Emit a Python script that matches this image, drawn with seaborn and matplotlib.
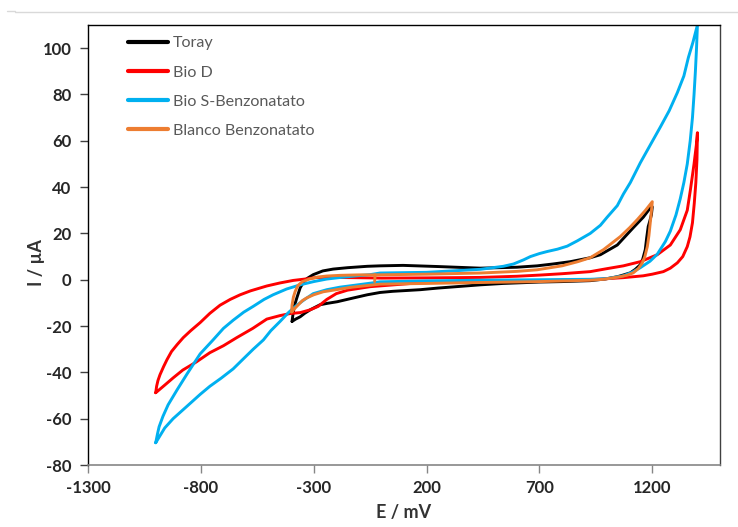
import matplotlib
matplotlib.use("Agg")
import matplotlib.pyplot as plt
from matplotlib.lines import Line2D
import numpy as np
import pandas as pd
import seaborn as sns

# ---------------- cyclic voltammograms (E in mV, I in uA) ----------------
# Toray: anodic branch then cathodic branch back to the vertex
toray_E = [-396, -392, -385, -373, -360, -347, -330, -302, -260, -214, -150, -63, -6, 96, 250,
           438, 600, 690, 760, 837, 925, 970, 1045, 1116, 1160, 1191, 1200,
           1196, 1188, 1182, 1175, 1169, 1158, 1147, 1125, 1103, 1070, 1045, 990, 925, 800,
           700, 540, 438, 250, 172, 50, -6, -63, -130, -196, -240, -272, -316, -340, -360,
           -380, -396]
toray_I = [-18, -15, -11, -7.3, -3.5, -1.3, 0.5, 2.2, 3.8, 4.6, 5.2, 5.8, 6.0, 6.2, 5.7,
           5.0, 5.4, 6.0, 6.8, 7.8, 9.5, 10.8, 15, 22.5, 27, 31, 31.5,
           28, 25, 23, 18, 13, 9, 6.5, 4.5, 3, 2, 1.3, 0.3, -0.4, -0.8,
           -1, -1.6, -2.2, -3.6, -4.3, -5, -5.5, -6.5, -8, -9.5, -10.2, -10.8, -13, -14.5, -16,
           -17, -18]

# Bio D
biod_E = [-1000, -996, -990, -981, -965, -950, -930, -905, -878, -845, -803, -760, -715, -670,
          -626, -580, -508, -450, -391, -330, -286, -214, -130, -50, 0, 200, 438, 600, 700, 800,
          925, 1000, 1072, 1147, 1222, 1280, 1324, 1355, 1369, 1385, 1395, 1400,
          1398, 1393, 1386, 1378, 1367, 1355, 1335, 1311, 1280, 1249, 1200, 1160, 1072, 925,
          700, 438, 172, -50, -150, -200, -242, -280, -316, -360, -405, -450, -508, -570, -641,
          -700, -760, -820, -880, -923, -960, -1000]
biod_I = [-48.8, -46, -43.5, -41, -37.5, -34.5, -31, -28, -25, -22, -18.5, -14.5, -11, -8.5,
          -6.5, -4.8, -2.7, -1.4, -0.3, 0.4, 1.0, 1.0, 0.9, 0.8, 0.7, 0.8, 1.0, 1.5, 2.0, 2.6,
          3.5, 4.8, 6.0, 7.8, 10.8, 15, 21.6, 30, 38.9, 50, 58, 63.5,
          52, 42, 33, 24.6, 18.5, 14.3, 10, 7.3, 5, 3.5, 2.4, 1.7, 0.9, 0,
          -0.4, -0.8, -1.3, -3, -4.5, -6, -8.5, -11.5, -13, -14.2, -14.6, -15.5, -17, -21, -25,
          -28.5, -31.5, -35.5, -39, -42.4, -45.5, -48.8]

# Bio S-Benzonatato
bios_E = [-1000, -992, -985, -968, -945, -905, -860, -803, -746, -700, -657, -610, -568, -520,
          -480, -420, -360, -300, -242, -180, -100, -50, -6, 200, 438, 540, 585, 630, 660, 700,
          735, 780, 823, 868, 925, 970, 1000, 1045, 1072, 1103, 1147, 1190, 1236, 1275, 1311,
          1340, 1360, 1380, 1400,
          1396, 1391, 1385, 1378, 1368, 1355, 1340, 1324, 1305, 1280, 1258, 1222, 1190, 1147,
          1110, 1072, 1000, 925, 700, 438, 200, -6, -50, -120, -183, -242, -302, -340, -375,
          -410, -449, -490, -523, -568, -610, -657, -710, -760, -803, -860, -923, -960, -1000]
bios_I = [-70.4, -66.5, -63.5, -59, -54, -47.5, -40.5, -32, -26, -21, -17.5, -14, -11.5, -8.5,
          -6.5, -4, -2.2, -0.8, 0.3, 1.0, 1.8, 2.2, 2.9, 3.2, 4.5, 5.8, 6.8, 8.6, 10, 11.3,
          12.2, 13.2, 14.5, 16.8, 20, 23.5, 27, 32, 37, 42, 50.5, 58, 66, 73, 80.8,
          88, 96, 102.5, 110,
          100, 90, 80, 70, 60, 50, 42, 35, 28, 21, 16.5, 11, 8, 5.2,
          3.2, 1.7, 0.5, 0.2, 0, -0.2, -0.5, -0.9, -1.5, -2.4, -3.2, -4.3, -6, -8.5, -11,
          -14, -18, -22, -26, -30, -34, -38.5, -42.5, -46, -49.5, -54.5, -60, -64, -70.4]

# Blanco Benzonatato (scan starts near -30 mV)
blanco_E = [-30, -28, 200, 438, 600, 690, 800, 870, 925, 984, 1058, 1100, 1134, 1170, 1200,
            1195, 1191, 1185, 1178, 1167, 1156, 1138, 1116, 1090, 1058, 984, 925, 700, 438, 200,
            -6, -138, -200, -258, -300, -330, -350, -370, -385, -398,
            -396, -390, -382, -370, -350, -316, -280, -242, -183, -100, -30]
blanco_I = [-0.8, 2.1, 2.4, 2.9, 3.6, 4.3, 6, 7.8, 9.5, 13, 18.6, 22.5, 26, 30, 33.7,
            28.5, 24.6, 19, 14.3, 10, 7.3, 4.8, 3, 2, 1.3, 0.2, -0.2, -0.8, -1.2, -1.6,
            -1.9, -3.3, -4.3, -5.2, -6.5, -7.8, -9, -11, -12.5, -14,
            -11, -7.5, -5, -2.5, -0.8, 0.4, 1.2, 1.6, 1.9, 2.1, 2.1]

series_names = ["Toray", "Bio D", "Bio S-Benzonatato", "Blanco Benzonatato"]
series_E = [toray_E, biod_E, bios_E, blanco_E]
series_I = [toray_I, biod_I, bios_I, blanco_I]
series_colors = ["#000000", "#FF0000", "#00B0F0", "#ED7D31"]

x_ticks = [-1300, -800, -300, 200, 700, 1200]
y_ticks = [-80, -60, -40, -20, 0, 20, 40, 60, 80, 100]

# ---------------- figure ----------------
sns.set_theme(style="white")
plt.rcParams["font.family"] = ["Lato", "DejaVu Sans"]

fig = plt.figure(figsize=(7.38, 5.27), dpi=100)
ax = fig.add_axes([88 / 738, 1 - 465 / 527, 632 / 738, 440 / 527])

for name, E, I, col in zip(series_names, series_E, series_I, series_colors):
    df = pd.DataFrame({"E": E, "I": I})
    sns.lineplot(data=df, x="E", y="I", sort=False, estimator=None, color=col,
                 linewidth=2.1, ax=ax, label=name,
                 solid_joinstyle="round", solid_capstyle="round")

ax.set_xlim(-1300, 1500)
ax.set_ylim(-80, 110)
ax.set_xticks(x_ticks)
ax.set_yticks(y_ticks)
ax.set_xticklabels([str(v) for v in x_ticks], fontweight="bold", fontsize=12, color="#262626")
ax.set_yticklabels([str(v) for v in y_ticks], fontweight="bold", fontsize=12, color="#262626")
ax.tick_params(axis="y", direction="out", length=6, width=1, color="#404040", pad=6, left=True)
ax.tick_params(axis="x", direction="out", length=6, width=1, color="#868686", pad=5, bottom=True)

for side in ["left", "top"]:
    ax.spines[side].set_color("#000000")
    ax.spines[side].set_linewidth(1.0)
ax.spines["right"].set_color("#404040")
ax.spines["right"].set_linewidth(1.0)
ax.spines["bottom"].set_color("#868686")
ax.spines["bottom"].set_linewidth(1.2)

ax.set_xlabel("E / mV", fontweight="bold", fontsize=13, color="#333333")
ax.set_ylabel("I / µA", fontweight="bold", fontsize=13, color="#333333")
ax.xaxis.set_label_coords(0.5, -0.088)
ax.yaxis.set_label_coords(-0.068, 0.46)

handles = [Line2D([0], [0], color=c, lw=3) for c in series_colors]
leg = ax.legend(handles, series_names, loc="upper left", bbox_to_anchor=(0.063, 0.975),
                frameon=False, fontsize=11.6, handlelength=2.5, handletextpad=0.3,
                labelspacing=0.93, borderpad=0, borderaxespad=0)
for t in leg.get_texts():
    t.set_color("#595959")

# thin chart-area border line along the top
fig.add_artist(Line2D([15 / 738, 1.0], [1 - 12 / 527, 1 - 12 / 527], color="#d9d9d9", lw=1))
fig.add_artist(Line2D([7 / 738, 15 / 738], [1 - 10.5 / 527, 1 - 10.5 / 527], color="#d9d9d9", lw=1))

fig.savefig("out.png", dpi=100)
